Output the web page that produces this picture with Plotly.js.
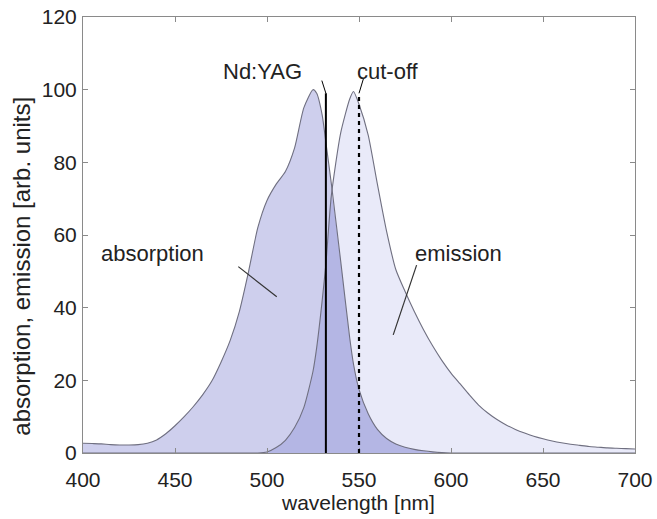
<!DOCTYPE html>
<html>
<head>
<meta charset="utf-8">
<script src="https://cdn.plot.ly/plotly-3.0.1.min.js"></script>
<style>html,body{margin:0;padding:0;background:#fff;}</style>
</head>
<body>
<div id="chart" style="width:657px;height:519px;"></div>
<script>
// wavelength grid [nm]
const wavelength = [400,405,410,415,420,425,430,435,440,445,450,455,460,465,470,475,480,485,490,495,500,505,510,515,520,525,527,530,532,535,540,545,547,550,555,560,565,570,575,580,585,590,595,600,605,610,615,620,625,630,635,640,645,650,655,660,665,670,675,680,685,690,695,700];
// absorption [arb. units]
const absorption = [2.7,2.6,2.5,2.3,2.2,2.2,2.3,2.7,3.6,5.3,7.5,10,12.8,16,19.8,25,31,39,50,62,69.5,74,77.5,84,95,100,99,93,85.5,74,53,31.5,24.5,17.5,10.8,6.5,4,2.5,1.6,1,0.6,0.3,0.1,0,0,0,0,0,0,0,0,0,0,0,0,0,0,0,0,0,0,0,0,0];
// emission [arb. units]
const emission = [0,0,0,0,0,0,0,0,0,0,0,0,0,0,0,0,0,0,0,0,0.3,1.5,3.5,7,12.5,22.5,29,42,52,71,88,97.5,99.5,96,87.5,74,61,50.5,44.5,39,34,29.5,25.5,22,19,16,13.2,11,9.2,7.7,6.5,5.5,4.6,3.9,3.3,2.8,2.4,2.1,1.8,1.6,1.4,1.3,1.2,1.1];
// overlap of the two spectra
const overlap = absorption.map((a, i) => Math.min(a, emission[i]));

const laserLine = [532];   // Nd:YAG
const cutoffLine = [550];  // cut-off filter
const xTicks = [400,450,500,550,600,650,700];
const yTicks = [0,20,40,60,80,100,120];

const outline = '#6f6f80';
const fam = '"Liberation Sans", Arial, Helvetica, sans-serif';
const tickFont = {family: fam, size: 21, color: '#222'};
const labelFont = {family: fam, size: 22, color: '#222'};

const traces = [
  {x: wavelength, y: absorption, type: 'scatter', mode: 'lines', fill: 'tozeroy',
   fillcolor: 'rgb(206,207,237)', line: {width: 0, shape: 'spline', smoothing: 0.6}, hoverinfo: 'skip'},
  {x: wavelength, y: emission, type: 'scatter', mode: 'lines', fill: 'tozeroy',
   fillcolor: 'rgb(233,234,249)', line: {width: 0, shape: 'spline', smoothing: 0.6}, hoverinfo: 'skip'},
  {x: wavelength, y: overlap, type: 'scatter', mode: 'lines', fill: 'tozeroy',
   fillcolor: 'rgb(180,182,228)', line: {width: 0, shape: 'spline', smoothing: 0.6}, hoverinfo: 'skip'},
  {x: wavelength, y: absorption, type: 'scatter', mode: 'lines',
   line: {width: 1.1, color: outline, shape: 'spline', smoothing: 0.6}},
  {x: wavelength, y: emission, type: 'scatter', mode: 'lines',
   line: {width: 1.1, color: outline, shape: 'spline', smoothing: 0.6}}
];

const shapes = [
  {type: 'line', xref: 'x', yref: 'y', x0: laserLine[0], x1: laserLine[0], y0: 0, y1: 99,
   line: {color: '#000', width: 2}},
  {type: 'line', xref: 'x', yref: 'y', x0: laserLine[0], x1: laserLine[0] - 2.2, y0: 99, y1: 102.5,
   line: {color: '#000', width: 1}},
  {type: 'line', xref: 'x', yref: 'y', x0: cutoffLine[0], x1: cutoffLine[0], y0: 0, y1: 99,
   line: {color: '#000', width: 2.2, dash: '4px,4px'}},
  {type: 'line', xref: 'x', yref: 'y', x0: cutoffLine[0], x1: cutoffLine[0] + 2.4, y0: 99, y1: 103,
   line: {color: '#000', width: 1}},
  {type: 'line', xref: 'x', yref: 'y', x0: 484.4, x1: 505.3, y0: 51.3, y1: 43,
   line: {color: '#333', width: 1.2}},
  {type: 'line', xref: 'x', yref: 'y', x0: 581.3, x1: 568.6, y0: 51.7, y1: 32.5,
   line: {color: '#333', width: 1.2}}
];

const annotations = [
  {x: 497.8, y: 105, text: 'Nd:YAG', showarrow: false, xref: 'x', yref: 'y', font: labelFont},
  {x: 565.8, y: 105, text: 'cut-off', showarrow: false, xref: 'x', yref: 'y', font: labelFont},
  {x: 437.5, y: 55, text: 'absorption', showarrow: false, xref: 'x', yref: 'y', font: labelFont},
  {x: 604.3, y: 55, text: 'emission', showarrow: false, xref: 'x', yref: 'y', font: labelFont},
  // axis titles
  {x: 0.498, y: -0.114, xref: 'paper', yref: 'paper', xanchor: 'center', yanchor: 'middle',
   text: 'wavelength [nm]', showarrow: false, font: {family: fam, size: 21, color: '#222'}},
  {x: -0.111, y: 0.429, xref: 'paper', yref: 'paper', xanchor: 'center', yanchor: 'middle',
   text: 'absorption, emission [arb. units]', textangle: -90, showarrow: false,
   font: {family: fam, size: 24, color: '#222'}}
];

const axisCommon = {
  showline: true, linecolor: '#8a8a8a', linewidth: 1, mirror: 'ticks',
  ticks: 'inside', ticklen: 5, tickcolor: '#8a8a8a', tickwidth: 1,
  showgrid: false, zeroline: false, tickfont: tickFont, fixedrange: true
};

const layout = {
  width: 657, height: 519,
  margin: {l: 83, r: 22, t: 17, b: 66},
  paper_bgcolor: '#fff', plot_bgcolor: '#fff',
  showlegend: false,
  font: tickFont,
  xaxis: Object.assign({}, axisCommon, {
    range: [400, 700], tickmode: 'array', tickvals: xTicks, ticktext: xTicks.map(String),
    ticklabelstandoff: 8
  }),
  yaxis: Object.assign({}, axisCommon, {
    range: [0, 120], tickmode: 'array', tickvals: yTicks, ticktext: yTicks.map(String),
    ticklabelstandoff: 1
  }),
  shapes: shapes,
  annotations: annotations
};

Plotly.newPlot('chart', traces, layout, {displayModeBar: false, staticPlot: true});
</script>
</body>
</html>
